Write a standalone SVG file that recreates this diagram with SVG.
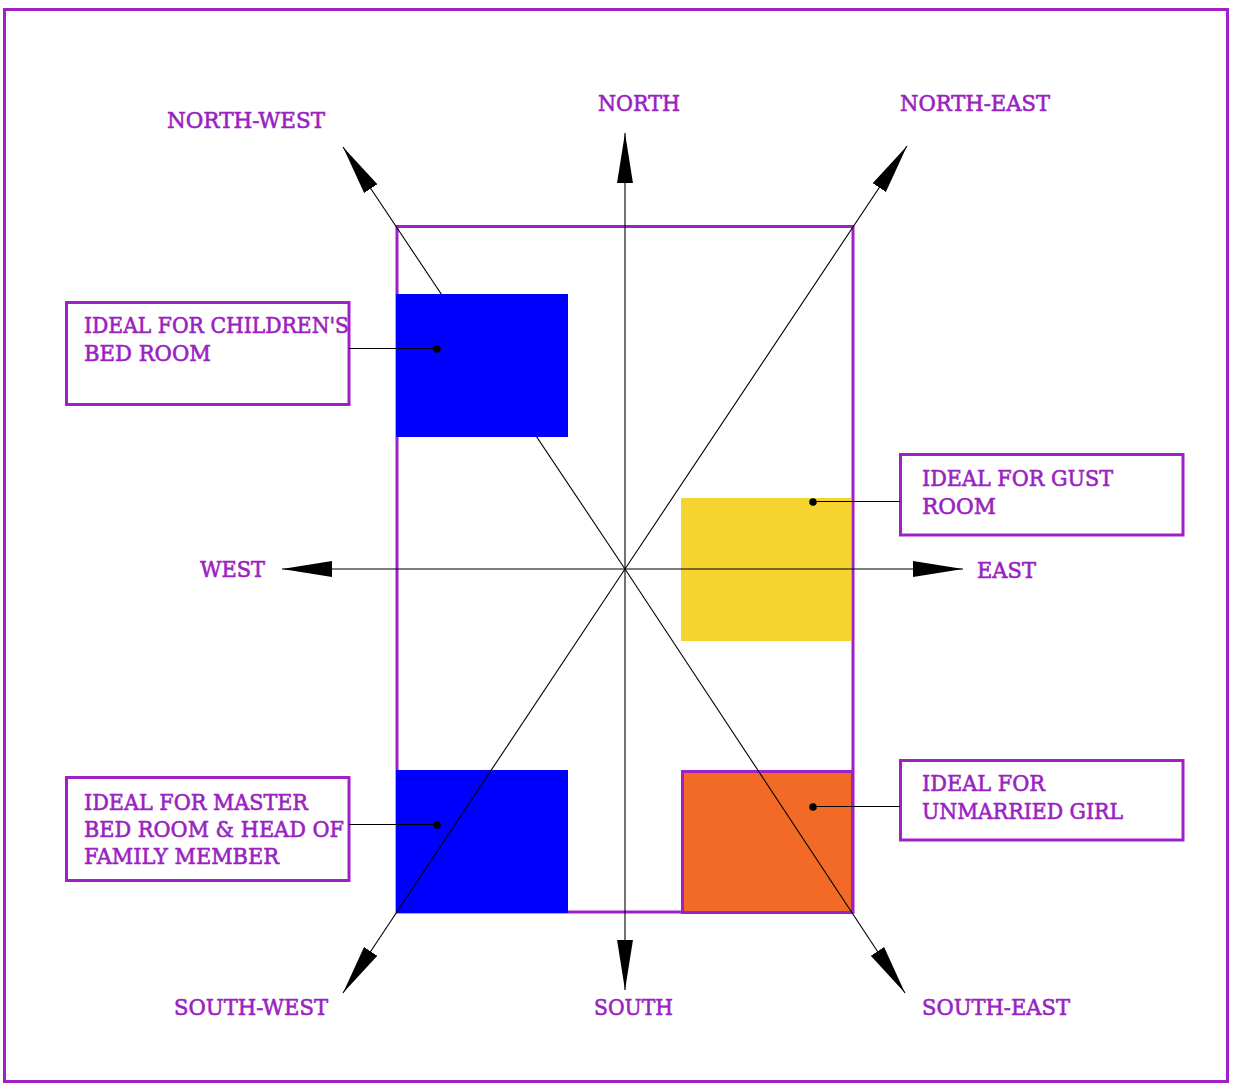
<svg xmlns="http://www.w3.org/2000/svg" width="1233" height="1089" viewBox="0 0 1233 1089">
<style>
.frame{fill:none;stroke:#a020c8;stroke-width:3}
.box{fill:#fff;stroke:#a020c8;stroke-width:3}
.ray{stroke:#000;stroke-width:1.1;fill:none;marker-end:url(#ah)}
.lead{stroke:#000;stroke-width:1.1}
.dot{fill:#000}
text{font-family:"DejaVu Serif","Liberation Serif",serif;font-size:22px;fill:#9a22c0;stroke:#9a22c0;stroke-width:0.6}
</style>
<defs>
<marker id="ah" markerUnits="userSpaceOnUse" markerWidth="50" markerHeight="20" viewBox="0 -8 44 16" refX="44" refY="0" orient="auto">
<path d="M0,-7 L44,0 L0,7 Z" fill="#000"/>
</marker>
</defs>
<rect width="1233" height="1089" fill="#fff"/>
<rect class="frame" x="4.5" y="9.5" width="1223" height="1072"/>

<g id="room">
<rect class="frame" x="397" y="226.5" width="456" height="685.5"/>
</g>
<g id="zone-sw">
<rect x="396" y="770" width="172" height="143" fill="#0000ff"/>
</g>
<g id="zone-east">
<rect x="681" y="498" width="170" height="143" fill="#f5d430"/>
</g>
<g id="zone-se">
<rect x="682.5" y="771.5" width="170" height="141" fill="#f26a25" stroke="#a020c8" stroke-width="3"/>
</g>

<g id="connectors">
<line class="ray" x1="625" y1="569" x2="625" y2="133"/>
<line class="ray" x1="625" y1="569" x2="625" y2="990"/>
<line class="ray" x1="625" y1="569" x2="282" y2="569"/>
<line class="ray" x1="625" y1="569" x2="963" y2="569"/>
<line class="ray" x1="625" y1="569" x2="907" y2="146"/>
<line class="ray" x1="625" y1="569" x2="343" y2="993"/>
<line class="ray" x1="625" y1="569" x2="343" y2="147"/>
<line class="ray" x1="625" y1="569" x2="905" y2="993"/>
</g>

<g id="zone-nw">
<rect x="396" y="294" width="172" height="143" fill="#0000ff"/>
</g>

<g id="label-children">
<rect class="box" x="66.5" y="302.5" width="282.5" height="102"/>
<text x="84" y="333" textLength="265" lengthAdjust="spacingAndGlyphs">IDEAL FOR CHILDREN'S</text>
<text x="84" y="361" textLength="127" lengthAdjust="spacingAndGlyphs">BED ROOM</text>
</g>
<g id="label-master">
<rect class="box" x="66.5" y="777.5" width="282.5" height="103"/>
<text x="84" y="810" textLength="224" lengthAdjust="spacingAndGlyphs">IDEAL FOR MASTER</text>
<text x="84" y="837" textLength="260" lengthAdjust="spacingAndGlyphs">BED ROOM &amp; HEAD OF</text>
<text x="84" y="864" textLength="195" lengthAdjust="spacingAndGlyphs">FAMILY MEMBER</text>
</g>
<g id="label-guest">
<rect class="box" x="900.5" y="454.5" width="282.5" height="80.5"/>
<text x="922" y="486" textLength="191" lengthAdjust="spacingAndGlyphs">IDEAL FOR GUST</text>
<text x="922" y="514" textLength="74" lengthAdjust="spacingAndGlyphs">ROOM</text>
</g>
<g id="label-girl">
<rect class="box" x="900.5" y="760.5" width="282.5" height="79.5"/>
<text x="922" y="791" textLength="123" lengthAdjust="spacingAndGlyphs">IDEAL FOR</text>
<text x="922" y="819" textLength="201" lengthAdjust="spacingAndGlyphs">UNMARRIED GIRL</text>
</g>

<g id="leaders">
<line class="lead" x1="349" y1="348.5" x2="437" y2="348.5"/>
<circle class="dot" cx="437" cy="349" r="3.8"/>
<line class="lead" x1="349" y1="824.5" x2="437" y2="824.5"/>
<circle class="dot" cx="437" cy="825" r="3.8"/>
<line class="lead" x1="813" y1="501.5" x2="900" y2="501.5"/>
<circle class="dot" cx="813" cy="502" r="3.8"/>
<line class="lead" x1="813" y1="806.5" x2="900" y2="806.5"/>
<circle class="dot" cx="813" cy="807" r="3.8"/>
</g>

<g id="directions">
<text x="167" y="128" textLength="158" lengthAdjust="spacingAndGlyphs">NORTH-WEST</text>
<text x="598" y="111" textLength="82" lengthAdjust="spacingAndGlyphs">NORTH</text>
<text x="900" y="111" textLength="150" lengthAdjust="spacingAndGlyphs">NORTH-EAST</text>
<text x="200" y="577" textLength="65" lengthAdjust="spacingAndGlyphs">WEST</text>
<text x="977" y="578" textLength="59" lengthAdjust="spacingAndGlyphs">EAST</text>
<text x="174" y="1015" textLength="154" lengthAdjust="spacingAndGlyphs">SOUTH-WEST</text>
<text x="594" y="1015" textLength="79" lengthAdjust="spacingAndGlyphs">SOUTH</text>
<text x="922" y="1015" textLength="148" lengthAdjust="spacingAndGlyphs">SOUTH-EAST</text>
</g>
</svg>
